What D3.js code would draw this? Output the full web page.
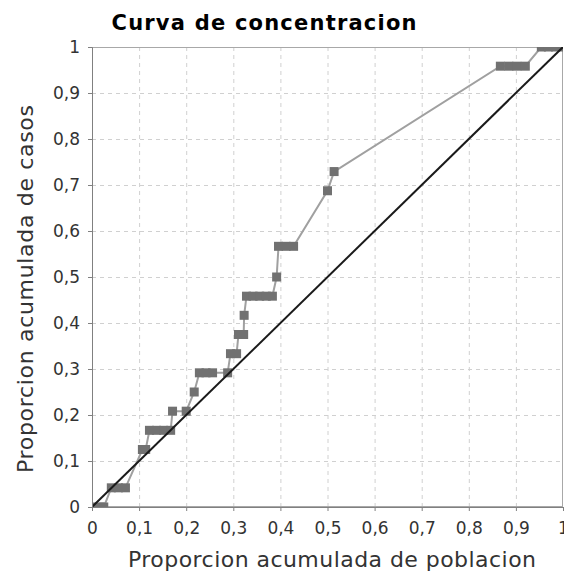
<!DOCTYPE html>
<html>
<head>
<meta charset="utf-8">
<script src="https://cdn.jsdelivr.net/npm/d3@7"></script>
<style>
  body { margin: 0; background: #fff; }
  svg { display: block; }
</style>
</head>
<body>
<svg id="chart"></svg>
<script>
// datos (proporciones acumuladas)
var propPoblacion = [0, 0.017, 0.025,
  0.041, 0.056, 0.071,
  0.107, 0.114,
  0.122, 0.137, 0.152, 0.167,
  0.171, 0.2,
  0.217,
  0.228, 0.242, 0.256, 0.288,
  0.294, 0.307,
  0.311, 0.322,
  0.323,
  0.328, 0.342, 0.356, 0.37, 0.383,
  0.392,
  0.396, 0.412, 0.428,
  0.5, 0.514,
  0.867, 0.885, 0.902, 0.92,
  0.954, 0.969, 0.984, 1];
var propCasos = [0, 0, 0,
  0.0417, 0.0417, 0.0417,
  0.125, 0.125,
  0.1667, 0.1667, 0.1667, 0.1667,
  0.2083, 0.2083,
  0.25,
  0.2917, 0.2917, 0.2917, 0.2917,
  0.3333, 0.3333,
  0.375, 0.375,
  0.4167,
  0.4583, 0.4583, 0.4583, 0.4583, 0.4583,
  0.5,
  0.5667, 0.5667, 0.5667,
  0.6875, 0.7292,
  0.9583, 0.9583, 0.9583, 0.9583,
  1, 1, 1, 1];
var diagonal = [0, 1];
var xTicks = [0, 0.1, 0.2, 0.3, 0.4, 0.5, 0.6, 0.7, 0.8, 0.9, 1];
var yTicks = [0, 0.1, 0.2, 0.3, 0.4, 0.5, 0.6, 0.7, 0.8, 0.9, 1];

var width = 564, height = 573;
var plot = { left: 92, right: 563, top: 47, bottom: 507 };
var fuente = '"DejaVu Sans", sans-serif';

var svg = d3.select('#chart')
    .attr('width', width)
    .attr('height', height)
    .style('font-family', fuente);

var xScale = d3.scaleLinear().domain([0, 1]).range([plot.left, plot.right]);
var yScale = d3.scaleLinear().domain([0, 1]).range([plot.bottom, plot.top]);

// formato con coma decimal
function coma(d) { return d3.format('~g')(d).replace('.', ','); }

// gridlines
svg.append('g').selectAll('line')
    .data(xTicks.slice(1, -1))
    .enter().append('line')
    .attr('x1', d => xScale(d) + 0.5).attr('x2', d => xScale(d) + 0.5)
    .attr('y1', plot.top).attr('y2', plot.bottom)
    .attr('stroke', '#d0d0d0').attr('stroke-dasharray', '4,4');

svg.append('g').selectAll('line')
    .data(yTicks.slice(1, -1))
    .enter().append('line')
    .attr('x1', plot.left).attr('x2', plot.right)
    .attr('y1', d => yScale(d) + 0.5).attr('y2', d => yScale(d) + 0.5)
    .attr('stroke', '#d0d0d0').attr('stroke-dasharray', '4,4');

// plot outline
svg.append('rect')
    .attr('x', plot.left + 0.5).attr('y', plot.top + 0.5)
    .attr('width', plot.right - plot.left - 1).attr('height', plot.bottom - plot.top - 1)
    .attr('fill', 'none').attr('stroke', '#a8a8a8');

svg.append('clipPath').attr('id', 'clip')
    .append('rect')
    .attr('x', plot.left).attr('y', plot.top)
    .attr('width', plot.right - plot.left).attr('height', plot.bottom - plot.top);

var area = svg.append('g').attr('clip-path', 'url(#clip)');

var puntos = propPoblacion.map((x, i) => [x, propCasos[i]]);

// curva de concentracion
area.append('path')
    .datum(puntos)
    .attr('fill', 'none')
    .attr('stroke', '#a0a0a0')
    .attr('stroke-width', 2)
    .attr('d', d3.line().x(d => xScale(d[0])).y(d => yScale(d[1])));

area.selectAll('rect.punto')
    .data(puntos)
    .enter().append('rect')
    .attr('class', 'punto')
    .attr('x', d => xScale(d[0]) - 4.5)
    .attr('y', d => yScale(d[1]) - 4.5)
    .attr('width', 9).attr('height', 9)
    .attr('fill', '#717171');

// diagonal de igualdad
area.append('line')
    .attr('x1', xScale(diagonal[0])).attr('y1', yScale(diagonal[0]))
    .attr('x2', xScale(diagonal[1])).attr('y2', yScale(diagonal[1]))
    .attr('stroke', '#1a1a1a').attr('stroke-width', 2);

// axes
var xAxis = d3.axisBottom(xScale).tickValues(xTicks).tickFormat(coma).tickSize(4).tickPadding(11);
var yAxis = d3.axisLeft(yScale).tickValues(yTicks).tickFormat(coma).tickSize(4).tickPadding(8);

var gx = svg.append('g')
    .attr('transform', 'translate(0,' + plot.bottom + ')')
    .call(xAxis);
var gy = svg.append('g')
    .attr('transform', 'translate(' + plot.left + ',0)')
    .call(yAxis);

[gx, gy].forEach(function(g) {
    g.select('.domain').attr('stroke', '#808080');
    g.selectAll('.tick line').attr('stroke', '#808080');
    g.selectAll('.tick text')
        .attr('fill', '#333')
        .style('font-size', '17px')
        .style('font-family', fuente);
});

// title
svg.append('text')
    .attr('x', 264).attr('y', 30)
    .attr('text-anchor', 'middle')
    .style('font-size', '21px')
    .style('font-weight', 'bold')
    .attr('fill', '#000')
    .attr('textLength', 305)
    .attr('lengthAdjust', 'spacing')
    .text('Curva de concentracion');

// axis labels
svg.append('text')
    .attr('x', 332).attr('y', 567)
    .attr('text-anchor', 'middle')
    .style('font-size', '22px')
    .attr('fill', '#333')
    .attr('textLength', 408)
    .attr('lengthAdjust', 'spacing')
    .text('Proporcion acumulada de poblacion');

svg.append('text')
    .attr('transform', 'translate(' + [33, 289] + ') rotate(-90)')
    .attr('text-anchor', 'middle')
    .style('font-size', '22px')
    .attr('fill', '#333')
    .attr('textLength', 368)
    .attr('lengthAdjust', 'spacing')
    .text('Proporcion acumulada de casos');
</script>
</body>
</html>
